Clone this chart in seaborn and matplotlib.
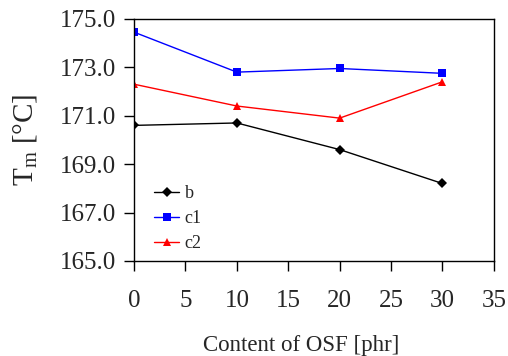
import matplotlib
matplotlib.use("Agg")
import pandas as pd
import matplotlib.pyplot as plt
import seaborn as sns

# values
osf = [0, 10, 20, 30]
b = [170.6, 170.7, 169.6, 168.2]
c1 = [174.45, 172.8, 172.95, 172.75]
c2 = [172.3, 171.4, 170.9, 172.4]

df = pd.DataFrame({'osf': osf * 3,
                   'Tm': b + c1 + c2,
                   'series': ['b'] * 4 + ['c1'] * 4 + ['c2'] * 4})

sns.set_style("ticks")
plt.rcParams['font.family'] = ['Liberation Serif', 'DejaVu Serif']
plt.rcParams['mathtext.fontset'] = 'custom'
plt.rcParams['mathtext.rm'] = 'Liberation Serif'

fig = plt.figure(figsize=(5.08, 3.56), dpi=100)
ax = fig.add_axes([0.264, 0.267, 0.708, 0.68])

sns.lineplot(data=df, x='osf', y='Tm', hue='series', style='series',
             palette={'b': 'black', 'c1': '#0000ff', 'c2': '#ff0000'},
             markers={'b': 'D', 'c1': 's', 'c2': '^'},
             dashes=False, linewidth=1, markersize=5.5, markeredgewidth=0,
             ax=ax)

ax.set_xlim(0, 35)
ax.set_ylim(165, 175)
ax.set_xticks(range(0, 40, 5))
ax.set_yticks([165, 167, 169, 171, 173, 175])
ax.set_yticklabels([f"{v:.1f}" for v in [165, 167, 169, 171, 173, 175]])
ax.tick_params(labelsize=18, length=7, width=1, color='black')
ax.tick_params(axis='y', pad=6)
ax.tick_params(axis='x', pad=14)
for s in ax.spines.values():
    s.set_linewidth(1)
    s.set_color('black')

ax.set_xlabel("Content of OSF [phr]", fontsize=16.5)
ax.xaxis.set_label_coords(0.465, -0.305)
ax.set_ylabel(r"T$_{\mathrm{m}}$ [°C]", fontsize=21, labelpad=14)

leg = ax.legend(loc='upper left', bbox_to_anchor=(0.01, 0.38), frameon=False,
                fontsize=13, handlelength=1.4, handletextpad=0.3,
                labelspacing=0.45, title=None)

fig.savefig("out.png", dpi=100)
